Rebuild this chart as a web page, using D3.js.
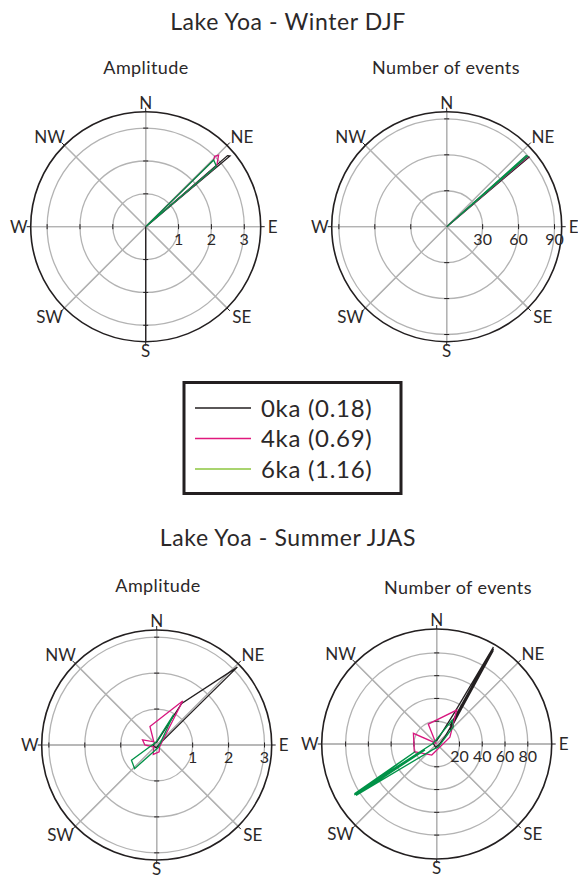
<!DOCTYPE html>
<html>
<head>
<meta charset="utf-8">
<title>Lake Yoa wind roses</title>
<script src="https://d3js.org/d3.v7.min.js"></script>
<style>
  body { margin: 0; background: #fff; }
  text { font-family: Lato, "Open Sans", sans-serif; font-weight: 400; fill: #2b2829; }
  .ring { fill: none; stroke: #b3b3b3; stroke-width: 1.3; }
  .spoke { stroke: #b3b3b3; stroke-width: 1.3; }
  .rim { fill: none; stroke: #231f20; stroke-width: 1.6; }
  .tick { stroke: #231f20; stroke-width: 1; }
  .series { fill: none; stroke-width: 1.3; stroke-linejoin: miter; }
</style>
</head>
<body>
<script>
// ---- data: polygon vertices as [direction in degrees, value] ----
var directions = ["N", "NE", "E", "SE", "S", "SW", "W", "NW"];
var seriesNames = ["0ka (0.18)", "4ka (0.69)", "6ka (1.16)"];
var lineColors = ["#231f20", "#d8177f", "#009247"];
var legendColors = ["#231f20", "#e0197d", "#8dc63f"];

var winterAmpTicks = [1, 2, 3];
var winterEventTicks = [30, 60, 90];
var summerAmpTicks = [1, 2, 3];
var summerEventTicks = [20, 40, 60, 80];

var winterAmp0ka = [[0, 0], [49, 3.3], [50, 3.35], [90, 0], [180, 3.48], [270, 0]];
var winterAmp4ka = [[0, 0], [45.5, 2.9], [44.4, 3.0], [45.5, 3.11], [49.2, 2.86], [49.5, 2.83]];
var winterAmp6ka = [[0, 0], [45.5, 2.9], [49.5, 2.83]];

var winterEvt0ka = [[0, 0], [48.8, 89.3], [49.8, 90]];
var winterEvt4ka = [[0, 0], [48.5, 88.5], [49.3, 89.3]];
var winterEvt6ka = [[0, 0], [48.2, 89], [49, 89.4]];

var summerAmp0ka = [[0, 0.08], [31, 1.35], [46, 3.12], [53, 0.25], [100, 0.05], [190, 0.08], [260, 0.1], [320, 0.08]];
var summerAmp4ka = [[30.6, 1.42], [65, 0.15], [130, 0.1], [160, 0.2], [200, 0.28], [235, 0.1], [270, 0.33], [290, 0.42], [318, 0.12], [340, 0.55]];
var summerAmp6ka = [[29, 0.97], [60, 0.12], [150, 0.08], [223, 0.9], [239, 0.82], [300, 0.08], [0, 0.1]];

var summerEvt0ka = [[0, 3], [22, 8], [29.5, 32.5], [30.3, 98.7], [36, 20], [30.8, 97.5], [43.5, 17], [31.2, 96], [48.7, 9.7], [120, 2], [200, 3], [280, 3], [340, 3]];
var summerEvt4ka = [[30.5, 34.6], [63, 13], [204, 10.6], [251, 20.8], [294.6, 22.5], [315, 1], [337, 19]];
var summerEvt6ka = [[33, 25], [44, 21], [80, 4], [150, 3], [215, 6], [237.5, 84], [243, 11.5], [238.2, 85.1], [250.5, 20.2], [238.8, 84.5], [270, 4], [330, 3]];

var svg = d3.select("body").append("svg")
  .attr("width", 578)
  .attr("height", 881);

var angle = d3.scaleLinear().domain([0, 360]).range([0, 2 * Math.PI]);
var R = 115;

function rose(cx, cy, maxVal, ticks, title, titleX, titleY, series) {
  var r = d3.scaleLinear().domain([0, maxVal]).range([0, R]);
  var g = svg.append("g").attr("transform", "translate(" + cx + "," + cy + ")");

  svg.append("text")
     .attr("x", titleX).attr("y", titleY)
     .attr("text-anchor", "middle")
     .style("font-size", "18px")
     .style("letter-spacing", "0.4px")
     .text(title);

  // rings
  g.selectAll(".ring").data(ticks).enter().append("circle")
   .attr("class", "ring")
   .attr("r", function(d) { return r(d); });

  // spokes
  g.selectAll(".spoke").data(directions).enter().append("line")
   .attr("class", "spoke")
   .attr("x1", function(d, i) { return -R * Math.sin(angle(i * 45)); })
   .attr("y1", function(d, i) { return R * Math.cos(angle(i * 45)); })
   .attr("x2", function(d, i) { return R * Math.sin(angle(i * 45)); })
   .attr("y2", function(d, i) { return -R * Math.cos(angle(i * 45)); });

  g.append("circle").attr("class", "rim").attr("r", R);

  // little ticks outside the rim
  g.selectAll(".otick").data(directions).enter().append("line")
   .attr("class", "tick")
   .attr("x1", function(d, i) { return R * Math.sin(angle(i * 45)); })
   .attr("y1", function(d, i) { return -R * Math.cos(angle(i * 45)); })
   .attr("x2", function(d, i) { return (R + 4) * Math.sin(angle(i * 45)); })
   .attr("y2", function(d, i) { return -(R + 4) * Math.cos(angle(i * 45)); });

  // ring ticks on the four main axes
  [0, 90, 180, 270].forEach(function(a) {
    g.selectAll(null).data(ticks).enter().append("line")
     .attr("class", "tick")
     .attr("transform", "rotate(" + a + ")")
     .attr("x1", -2.5).attr("x2", 2.5)
     .attr("y1", function(d) { return -r(d); })
     .attr("y2", function(d) { return -r(d); });
  });

  // tick labels under the E axis
  g.selectAll(".tlab").data(ticks).enter().append("text")
   .attr("x", function(d) { return r(d); })
   .attr("y", 18)
   .attr("text-anchor", "middle")
   .style("font-size", "16px")
   .text(function(d) { return d; });

  // compass labels
  g.selectAll(".dir").data(directions).enter().append("text")
   .attr("x", function(d, i) { return (i % 2 ? 136 : 127) * Math.sin(angle(i * 45)); })
   .attr("y", function(d, i) { return -(i % 2 ? 127 : 124) * Math.cos(angle(i * 45)); })
   .attr("dy", "0.36em")
   .attr("text-anchor", "middle")
   .style("font-size", "17px")
   .text(function(d) { return d; });

  var line = d3.lineRadial()
    .angle(function(d) { return angle(d[0]); })
    .radius(function(d) { return r(d[1]); })
    .curve(d3.curveLinearClosed);

  g.selectAll(".series").data(series).enter().append("path")
   .attr("class", "series")
   .attr("stroke", function(d, i) { return lineColors[i]; })
   .attr("d", line);
}

// headings
svg.append("text").attr("x", 288).attr("y", 30).attr("text-anchor", "middle")
   .style("font-size", "23px").style("letter-spacing", "0.6px").text("Lake Yoa - Winter DJF");
svg.append("text").attr("x", 288).attr("y", 546).attr("text-anchor", "middle")
   .style("font-size", "23px").style("letter-spacing", "0.6px").text("Lake Yoa - Summer JJAS");

rose(145.7, 226.7, 3.5, winterAmpTicks, "Amplitude", 146, 74, [winterAmp0ka, winterAmp4ka, winterAmp6ka]);
rose(446.7, 226.7, 96, winterEventTicks, "Number of events", 446, 74, [winterEvt0ka, winterEvt4ka, winterEvt6ka]);
rose(156.7, 745, 3.2, summerAmpTicks, "Amplitude", 158, 592, [summerAmp0ka, summerAmp4ka, summerAmp6ka]);
rose(436.7, 744, 101, summerEventTicks, "Number of events", 458, 594, [summerEvt0ka, summerEvt4ka, summerEvt6ka]);

// legend
var legend = svg.append("g");
legend.append("rect")
  .attr("x", 184).attr("y", 382.5).attr("width", 217).attr("height", 111)
  .attr("fill", "none").attr("stroke", "#231f20").attr("stroke-width", 3);
var rows = legend.selectAll(".row").data(seriesNames).enter().append("g")
  .attr("transform", function(d, i) { return "translate(195," + (408 + i * 30.5) + ")"; });
rows.append("line")
  .attr("x1", 0).attr("x2", 56)
  .attr("stroke", function(d, i) { return legendColors[i]; })
  .attr("stroke-width", 1.5);
rows.append("text")
  .attr("x", 66).attr("dy", "0.36em")
  .style("font-size", "24px")
  .style("letter-spacing", "0.7px")
  .text(function(d) { return d; });
</script>
</body>
</html>
